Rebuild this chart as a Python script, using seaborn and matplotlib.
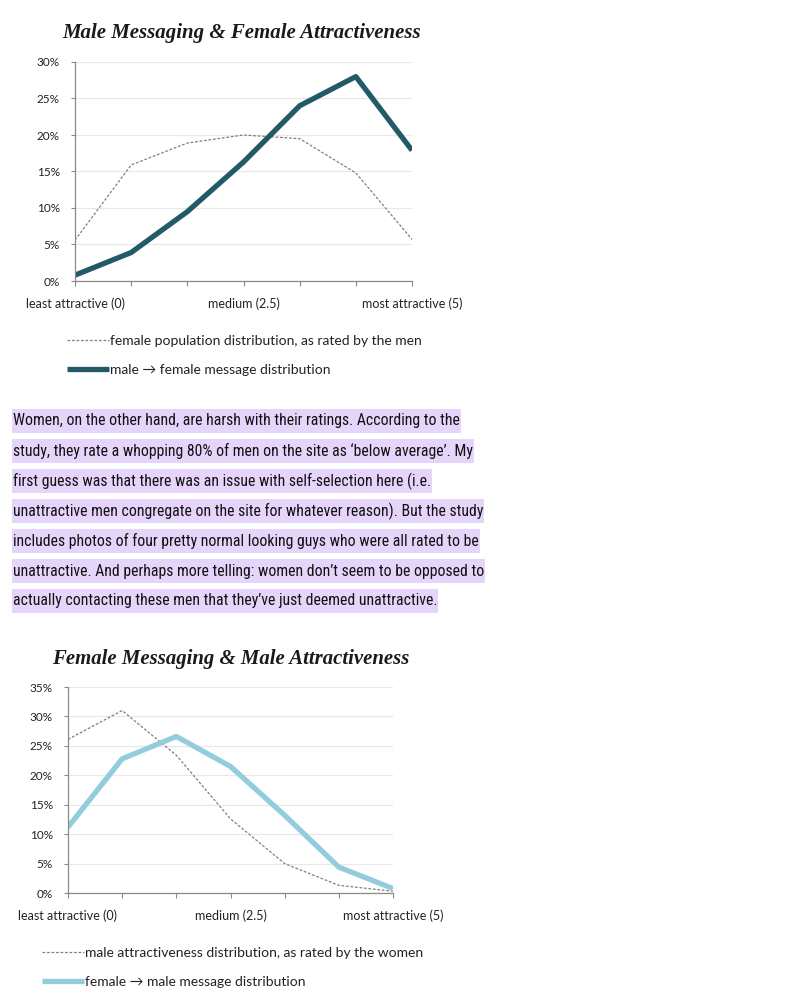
import numpy as np
import pandas as pd
import matplotlib
matplotlib.use("Agg")
import matplotlib.pyplot as plt
import seaborn as sns
from matplotlib import font_manager as fm
from matplotlib.patches import Rectangle

# ---------------- data ----------------
positions = [0, 1, 2, 3, 4, 5, 6]
tick_labels = ["least attractive (0)", "", "", "medium (2.5)", "", "", "most attractive (5)"]
y_ticks_1 = [0, 5, 10, 15, 20, 25, 30]
y_ticks_2 = [0, 5, 10, 15, 20, 25, 30, 35]

female_pop_by_men = [5.6, 15.9, 18.9, 20.0, 19.5, 14.8, 5.7]
male_to_female_msgs = [0.8, 3.9, 9.5, 16.3, 24.0, 28.0, 17.9]
male_pop_by_women = [26.1, 31.0, 23.4, 12.6, 5.0, 1.3, 0.3]
female_to_male_msgs = [11.2, 22.8, 26.6, 21.5, 13.2, 4.4, 0.75]

title_1 = "Male Messaging & Female Attractiveness"
title_2 = "Female Messaging & Male Attractiveness"
legend_1 = ["female population distribution, as rated by the men",
            "male \u2192 female message distribution"]
legend_2 = ["male attractiveness distribution, as rated by the women",
            "female \u2192 male message distribution"]

paragraph = [
    "Women, on the other hand, are harsh with their ratings. According to the",
    "study, they rate a whopping 80% of men on the site as \u2018below average\u2019. My",
    "first guess was that there was an issue with self-selection here (i.e.",
    "unattractive men congregate on the site for whatever reason). But the study",
    "includes photos of four pretty normal looking guys who were all rated to be",
    "unattractive. And perhaps more telling: women don\u2019t seem to be opposed to",
    "actually contacting these men that they\u2019ve just deemed unattractive.",
]

# ---------------- style ----------------
sns.set_theme(style="white")
plt.rcParams["font.family"] = ["Lato", "DejaVu Sans"]

TEAL = "#235a68"
LIGHTBLUE = "#93cddd"
GRAY_DOT = "#808080"
AXIS_GRAY = "#8a8a8a"
GRID = "#e8e8e8"
HIGHLIGHT = "#e6d5fb"
TXT = "#222222"

W, H = 800, 996
fig = plt.figure(figsize=(W / 100, H / 100), dpi=100)
fig.patch.set_facecolor("white")


def fx(px):
    return px / W


def fy(py):
    return 1 - py / H


# paragraph font selection
names = {f.name for f in fm.fontManager.ttflist}
para_fp = None
for cand in ["Liberation Sans Narrow", "Roboto Condensed", "Open Sans Condensed"]:
    if cand in names:
        para_fp = fm.FontProperties(family=cand, weight="normal")
        break
if para_fp is None:
    for f in fm.fontManager.ttflist:
        if f.fname.endswith("DejaVuSansCondensed.ttf"):
            para_fp = fm.FontProperties(fname=f.fname)
            break
if para_fp is None:
    para_fp = fm.FontProperties(family="Liberation Sans")


def chart(left, right, top, bottom, pop, msgs, color, yticks, ymax,
          title, title_cx, title_cy, title_w, labels, leg_x, leg_y):
    ax = fig.add_axes([fx(left), fy(bottom), fx(right) - fx(left), fy(top) - fy(bottom)])
    df_pop = pd.DataFrame({"pos": positions, "val": pop})
    df_msg = pd.DataFrame({"pos": positions, "val": msgs})
    sns.lineplot(data=df_pop, x="pos", y="val", ax=ax, color=GRAY_DOT,
                 linewidth=0.9, linestyle=(0, (2.2, 1.4)), label=labels[0])
    sns.lineplot(data=df_msg, x="pos", y="val", ax=ax, color=color,
                 linewidth=3.8, label=labels[1], solid_capstyle="butt")
    ax.set_xlim(0, 6)
    ax.set_ylim(0, ymax)
    ax.set_xticks(positions)
    ax.set_xticklabels(tick_labels)
    ax.set_yticks(yticks)
    ax.set_yticklabels([f"{v}%" for v in yticks])
    ax.set_xlabel("")
    ax.set_ylabel("")
    ax.yaxis.grid(True, color=GRID, linewidth=0.9)
    ax.xaxis.grid(False)
    ax.set_axisbelow(True)
    for s in ["top", "right"]:
        ax.spines[s].set_visible(False)
    for s in ["left", "bottom"]:
        ax.spines[s].set_color(AXIS_GRAY)
        ax.spines[s].set_linewidth(0.9)
    ax.tick_params(axis="x", bottom=True, direction="out", length=3.5, width=0.8,
                   color=AXIS_GRAY, pad=8, labelsize=9, labelcolor=TXT)
    ax.tick_params(axis="y", left=True, direction="out", length=3, width=0.8,
                   color=AXIS_GRAY, pad=8, labelsize=8.5, labelcolor=TXT)
    ax.get_legend().remove()
    handles = ax.get_lines()[:2]
    fig.legend(handles=handles, labels=labels, loc="upper left",
               bbox_to_anchor=(fx(leg_x), fy(leg_y)), bbox_transform=fig.transFigure,
               frameon=False, fontsize=10, handlelength=3.0, handletextpad=0.1,
               labelspacing=1.2, borderpad=0, borderaxespad=0,
               labelcolor=TXT)
    t = fig.text(fx(title_cx), fy(title_cy), title, ha="center", va="center",
                 fontfamily="Liberation Serif", fontweight="bold", fontstyle="italic",
                 fontsize=13, color="#1a1a1a")
    return ax, t, title_w


ax1, t1, w1 = chart(75, 412, 62, 281, female_pop_by_men, male_to_female_msgs, TEAL,
                    y_ticks_1, 30, title_1, 242, 33, 357, legend_1, 67, 335)
ax2, t2, w2 = chart(68, 393, 687, 893, male_pop_by_women, female_to_male_msgs, LIGHTBLUE,
                    y_ticks_2, 35, title_2, 231, 659, 355, legend_2, 42, 947)

# paragraph
para_texts = []
for i, line in enumerate(paragraph):
    t = fig.text(fx(13), fy(421 + 30 * i), line, ha="left", va="center",
                 fontproperties=para_fp, fontsize=14, color="#111111", zorder=3)
    para_texts.append(t)

fig.canvas.draw()
renderer = fig.canvas.get_renderer()

# fit title widths
for t, w in [(t1, w1), (t2, w2)]:
    cur = t.get_window_extent(renderer).width
    t.set_fontsize(t.get_fontsize() * w / cur)

# fit paragraph width (line 4 target width 474 px)
cur = para_texts[3].get_window_extent(renderer).width
scale = 474 / cur
for t in para_texts:
    t.set_fontsize(t.get_fontsize() * scale)

fig.canvas.draw()
for i, t in enumerate(para_texts):
    bb = t.get_window_extent(renderer)
    cy = 421 + 30 * i
    fig.patches.append(Rectangle((fx(12), fy(cy + 12)), (bb.x1 - bb.x0 + 2) / W, 24 / H,
                                 transform=fig.transFigure, facecolor=HIGHLIGHT,
                                 edgecolor="none", zorder=1))

fig.savefig("out.png", dpi=100, facecolor="white")
